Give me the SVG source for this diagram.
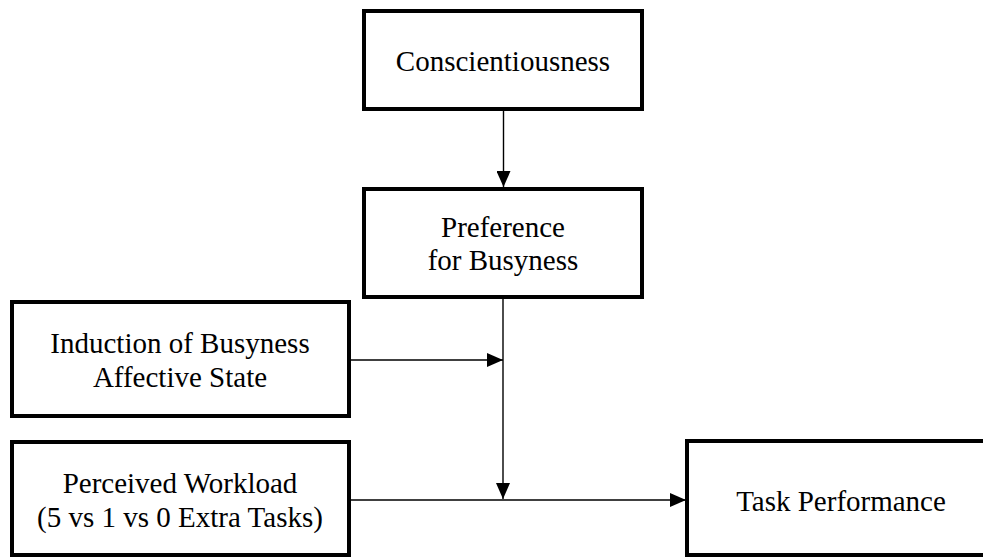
<svg xmlns="http://www.w3.org/2000/svg" width="983" height="558" viewBox="0 0 983 558">
<style>
.box{fill:#fff;stroke:#000;stroke-width:4}
.t{font-family:"Liberation Serif","Times New Roman",serif;font-size:29px;fill:#000;text-anchor:middle}
.c{stroke:#000;stroke-width:1.4;fill:none}
</style>
<defs>
<marker id="ah" viewBox="0 0 16 14" refX="16" refY="7" markerWidth="16" markerHeight="14" markerUnits="userSpaceOnUse" orient="auto">
<path d="M0,0 L16,7 L0,14 Z" fill="#000"/>
</marker>
</defs>
<rect width="983" height="558" fill="#fff"/>
<g id="conscientiousness">
<rect class="box" x="364" y="11" width="278" height="98"/>
<text class="t" x="503" y="71">Conscientiousness</text>
</g>
<g id="preference">
<rect class="box" x="364" y="189" width="278" height="108"/>
<text class="t" x="503" y="237">Preference</text>
<text class="t" x="503" y="270">for Busyness</text>
</g>
<g id="induction">
<rect class="box" x="12" y="302" width="337" height="114"/>
<text class="t" x="180" y="353">Induction of Busyness</text>
<text class="t" x="180" y="387">Affective State</text>
</g>
<g id="workload">
<rect class="box" x="12" y="442" width="337" height="113"/>
<text class="t" x="180" y="493">Perceived Workload</text>
<text class="t" x="180" y="527">(5 vs 1 vs 0 Extra Tasks)</text>
</g>
<g id="task">
<rect class="box" x="687" y="441" width="310" height="114"/>
<text class="t" x="841" y="511">Task Performance</text>
</g>
<g id="connectors">
<line class="c" x1="503.5" y1="109" x2="503.5" y2="187" marker-end="url(#ah)"/>
<line class="c" x1="349" y1="360" x2="503" y2="360" marker-end="url(#ah)"/>
<line class="c" x1="503" y1="297" x2="503" y2="499" marker-end="url(#ah)"/>
<line class="c" x1="349" y1="500" x2="686" y2="500" marker-end="url(#ah)"/>
</g>
</svg>
